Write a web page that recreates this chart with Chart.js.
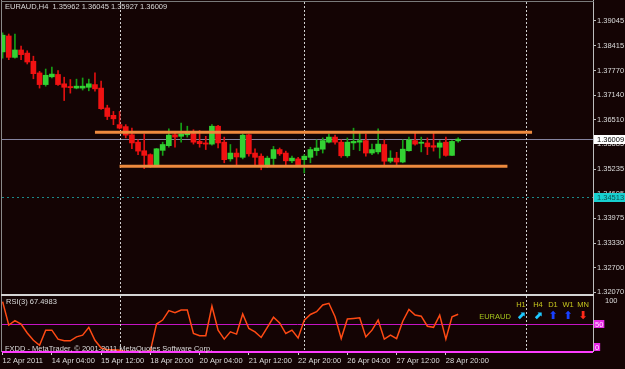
<!DOCTYPE html>
<html>
<head>
<meta charset="utf-8">
<script src="https://cdn.jsdelivr.net/npm/chart.js@4/dist/chart.umd.min.js"></script>
<style>
  body { margin: 0; background: #140404; width: 625px; height: 369px; overflow: hidden; position: relative; font-family: "Liberation Sans", Arial, sans-serif; }
  .pane { position: absolute; left: 0; width: 625px; }
  .txt { position: absolute; white-space: nowrap; font-size: 7.5px; line-height: 10px; color: #dcdcdc; }
  .tf { position: absolute; white-space: nowrap; transform: translateX(-50%); font-size: 7.5px; line-height: 10px; }
  .arrow { font-family: "DejaVu Sans"; font-size: 11px; line-height: 12px; font-weight: bold; }
</style>
</head>
<body>
<div class="pane" style="top:0;height:294px"><canvas id="chart-price"></canvas></div>
<div class="pane" style="top:294px;height:75px"><canvas id="chart-rsi"></canvas></div>

<div class="txt" style="left:5px;top:2px">EURAUD,H4&nbsp;&nbsp;1.35962 1.36045 1.35927 1.36009</div>
<div class="txt" style="left:6px;top:297px">RSI(3) 67.4983</div>
<div class="txt" style="left:5px;top:344px">FXDD - MetaTrader, © 2001-2011 MetaQuotes Software Corp.</div>
<div id="trend-box"></div>

<script>
// ---------- данные: EURAUD H4 ----------
const opens  = [1.3825,1.3866,1.3811,1.3830,1.3822,1.3801,1.3771,1.3741,1.3761,1.3767,1.3743,1.3736,1.3732,1.3732,1.3734,1.3741,1.3732,1.3681,1.3662,1.3638,
                1.3633,1.3612,1.3593,1.3571,1.3561,1.3535,1.3572,1.3584,1.3612,1.3608,1.3612,1.3615,1.3595,1.3591,1.3588,1.3634,1.3593,1.3550,1.3565,1.3554,
                1.3612,1.3565,1.3557,1.3535,1.3551,1.3574,1.3565,1.3545,1.3550,1.3548,1.3554,1.3571,1.3575,1.3593,1.3606,1.3593,1.3558,1.3591,1.3593,1.3597,
                1.3565,1.3568,1.3587,1.3544,1.3552,1.3542,1.3571,1.3597,1.3590,1.3591,1.3584,1.3580,1.3593,1.3559,1.35962];
const highs  = [1.3874,1.3871,1.3871,1.3840,1.3828,1.3814,1.3775,1.3781,1.3786,1.3777,1.3760,1.3754,1.3755,1.3758,1.3755,1.3771,1.3750,1.3688,1.3672,1.3672,
                1.3638,1.3629,1.3599,1.3614,1.3563,1.3577,1.3593,1.3627,1.3621,1.3642,1.3634,1.3625,1.3623,1.3608,1.3638,1.3636,1.3606,1.3587,1.3576,1.3614,
                1.3614,1.3576,1.3563,1.3557,1.3582,1.3578,1.3570,1.3557,1.3554,1.3561,1.3580,1.3599,1.3604,1.3614,1.3611,1.3599,1.3604,1.3629,1.3617,1.3614,
                1.3588,1.3627,1.3599,1.3571,1.3567,1.3599,1.3606,1.3617,1.3606,1.3604,1.3617,1.3597,1.3606,1.3597,1.36045];
const lows   = [1.3809,1.3805,1.3809,1.3805,1.3794,1.3756,1.3732,1.3737,1.3758,1.3739,1.3700,1.3719,1.3730,1.3727,1.3725,1.3724,1.3677,1.3651,1.3638,1.3627,
                1.3604,1.3576,1.3561,1.3525,1.3528,1.3531,1.3559,1.3580,1.3580,1.3593,1.3606,1.3588,1.3580,1.3574,1.3585,1.3578,1.3540,1.3544,1.3531,1.3550,
                1.3557,1.3534,1.3522,1.3528,1.3531,1.3559,1.3535,1.3540,1.3531,1.3514,1.3540,1.3559,1.3565,1.3591,1.3588,1.3554,1.3554,1.3574,1.3571,1.3557,
                1.3561,1.3563,1.3535,1.3540,1.3535,1.3540,1.3570,1.3585,1.3568,1.3561,1.3570,1.3552,1.3557,1.3558,1.35927];
const closes = [1.3868,1.3811,1.3830,1.3818,1.3799,1.3769,1.3741,1.3765,1.3768,1.3741,1.3734,1.3733,1.3737,1.3737,1.3743,1.3730,1.3679,1.3659,1.3653,1.3629,
                1.3611,1.3591,1.3570,1.3559,1.3535,1.3576,1.3587,1.3611,1.3606,1.3614,1.3618,1.3593,1.3589,1.3588,1.3634,1.3591,1.3548,1.3565,1.3555,1.3611,
                1.3563,1.3554,1.3534,1.3552,1.3574,1.3563,1.3545,1.3552,1.3534,1.3557,1.3574,1.3578,1.3597,1.3606,1.3593,1.3558,1.3593,1.3595,1.3597,1.3565,
                1.3574,1.3588,1.3544,1.3552,1.3542,1.3575,1.3599,1.3588,1.3593,1.3581,1.3580,1.3591,1.3559,1.3595,1.36009];
const rsiValues = [90,48,56,50,34,21,12,39,39,23,20,20,27,30,44,21,7,4,4,3,
                   1,1,1,0.5,2,50,57,74,70,75,75,33,29,29,82,39,23,36,32,68,
                   42,36,26,44,62,52,33,39,25,57,67,72,84,87,63,24,59,60,61,27,
                   39,57,23,30,24,55,76,66,64,46,44,66,23,63,67.4983];

const dateTicks = ["12 Apr 2011","14 Apr 04:00","15 Apr 12:00","18 Apr 20:00","20 Apr 04:00",
                   "21 Apr 12:00","22 Apr 20:00","26 Apr 04:00","27 Apr 12:00","28 Apr 20:00"];
const barsPerTick = 8;
const priceTicks = [1.39045,1.38415,1.37770,1.37140,1.36510,1.35885,1.35235,1.34605,1.33975,1.33330,1.32700,1.32070];
const rsiTicks = [100];
const rsiLevels = [50, 0];

const bidPrice = 1.36009;
const alertPrice = 1.34513;
const separators = [19, 49, 85];           // индекс бара недельных разделителей
const channelTop = { from: 15, to: 86, price: 1.36184 };
const channelBottom = { from: 19, to: 82, price: 1.35310 };

const trendFrames = ["H1", "H4", "D1", "W1", "MN"];
const trendArrows = ["⬈", "⬈", "⬆", "⬆", "⬇"];
const trendColors = ["#1ec8ff", "#1ec8ff", "#1840ff", "#1840ff", "#ff2a1a"];

// ---------- оформление ----------
const BG = "#140404";
const FONT = { family: "'Liberation Sans', Arial, sans-serif", size: 7.5 };
const X_MIN = -0.1, X_MAX = 95.9;
Chart.defaults.font.family = FONT.family;
Chart.defaults.font.size = FONT.size;
Chart.defaults.animation = false;

const isBull = (i) => closes[i] >= opens[i];

// убираем авто-отступы шкал под крайние подписи, чтобы область графика была точной
function noPad(s) { s.paddingTop = 0; s.paddingBottom = 0; s.paddingLeft = 0; s.paddingRight = 0; }

function drawSeparators(chart) {
  const { ctx, chartArea: a, scales } = chart;
  ctx.save();
  ctx.strokeStyle = "#cfcfcf";
  ctx.lineWidth = 1;
  ctx.setLineDash([2, 2]);
  separators.forEach((idx) => {
    const x = Math.round(scales.x.getPixelForValue(idx)) + 0.5;
    ctx.beginPath(); ctx.moveTo(x, a.top); ctx.lineTo(x, a.bottom); ctx.stroke();
  });
  ctx.restore();
}

function hLine(chart, value, color, width, dash) {
  const { ctx, chartArea: a, scales } = chart;
  const y = Math.round(scales.y.getPixelForValue(value)) + (width % 2 ? 0.5 : 0);
  ctx.save();
  ctx.strokeStyle = color; ctx.lineWidth = width;
  ctx.setLineDash(dash || []);
  ctx.beginPath(); ctx.moveTo(a.left, y); ctx.lineTo(a.right, y); ctx.stroke();
  ctx.restore();
}

function frame(chart, topColor, topWidth) {
  const { ctx, chartArea: a } = chart;
  ctx.save();
  ctx.fillStyle = "#8a8a8a";
  ctx.fillRect(a.left - 1, 0, 1, a.bottom);
  ctx.fillStyle = "#bdbdbd";
  ctx.fillRect(a.right, 0, 1, a.bottom);
  ctx.fillStyle = topColor;
  ctx.fillRect(a.left - 1, a.top - topWidth, a.right - a.left + 2, topWidth);
  ctx.restore();
}

function priceBox(chart, price, fill, color) {
  const { ctx, scales } = chart;
  const y = Math.round(scales.y.getPixelForValue(price));
  ctx.save();
  ctx.fillStyle = fill;
  ctx.fillRect(scales.y.left + 1, y - 4, scales.y.width, 9);
  ctx.fillStyle = color;
  ctx.font = `${FONT.size}px ${FONT.family}`;
  ctx.textBaseline = "middle";
  ctx.fillText(price.toFixed(5), scales.y.left + 4, y + 0.5);
  ctx.restore();
}

// ---------- график цены ----------
const pricePlugin = {
  id: "pricePlugin",
  beforeDraw(chart) {
    const { ctx } = chart;
    ctx.save(); ctx.fillStyle = BG; ctx.fillRect(0, 0, chart.width, chart.height); ctx.restore();
  },
  beforeDatasetsDraw(chart) {
    hLine(chart, bidPrice, "#8484a0", 1);
    hLine(chart, alertPrice, "#1c8a8a", 1, [2, 3]);
    drawSeparators(chart);
  },
  afterDraw(chart) {
    frame(chart, "#7a7a7a", 1);
    priceBox(chart, bidPrice, "#ffffff", "#000000");
    priceBox(chart, alertPrice, "#18d0d0", "#0a5050");
  },
};

const channelLine = (c) => ({
  type: "line",
  data: [{ x: c.from, y: c.price }, { x: c.to, y: c.price }],
  borderColor: "#ee8a3e", borderWidth: 3, pointRadius: 0, order: 0,
});

new Chart(document.getElementById("chart-price"), {
  type: "bar",
  data: {
    datasets: [
      channelLine(channelTop),
      channelLine(channelBottom),
      {
        data: opens.map((o, i) => ({ x: i, y: [o, closes[i]] })),
        backgroundColor: (c) => (isBull(c.dataIndex) ? "#33d133" : "#f01212"),
        barThickness: 5, minBarLength: 1, grouped: false, order: 1,
      },
      {
        data: lows.map((l, i) => ({ x: i, y: [l, highs[i]] })),
        backgroundColor: (c) => (isBull(c.dataIndex) ? "#16a016" : "#e01010"),
        barThickness: 1, grouped: false, order: 2,
      },
    ],
  },
  options: {
    responsive: true, maintainAspectRatio: false,
    layout: { padding: { left: 2, top: 2, right: 0, bottom: 0 } },
    plugins: { legend: { display: false }, tooltip: { enabled: false } },
    scales: {
      x: { type: "linear", min: X_MIN, max: X_MAX, offset: false, display: false },
      y: {
        position: "right", min: 1.32027, max: 1.39533,
        afterBuildTicks: (s) => { s.ticks = priceTicks.map((v) => ({ value: v })); },
        afterFit: (s) => { s.width = 32; noPad(s); },
        ticks: { color: "#dcdcdc", padding: 1, callback: (v) => v.toFixed(5) },
        grid: { drawOnChartArea: false, tickLength: 3, color: "#bdbdbd" },
        border: { display: false },
      },
    },
  },
  plugins: [pricePlugin],
});

// ---------- RSI(3) ----------
const rsiPlugin = {
  id: "rsiPlugin",
  beforeDraw(chart) {
    const { ctx } = chart;
    ctx.save(); ctx.fillStyle = BG; ctx.fillRect(0, 0, chart.width, chart.height); ctx.restore();
  },
  beforeDatasetsDraw(chart) {
    hLine(chart, rsiLevels[0], "#c414c4", 1);
    drawSeparators(chart);
  },
  afterDraw(chart) {
    const { ctx, chartArea: a, scales } = chart;
    frame(chart, "#d4d4d4", 2);
    hLine(chart, rsiLevels[1], "#ff3cff", 2);
    // подписи уровней в розовых плашках
    ctx.save();
    ctx.font = `${FONT.size}px ${FONT.family}`;
    ctx.textBaseline = "middle";
    rsiLevels.forEach((lv) => {
      const y = Math.min(Math.round(scales.y.getPixelForValue(lv)), a.bottom - 5);
      const w = ctx.measureText(String(lv)).width + 2;
      ctx.fillStyle = "#e628e6";
      ctx.fillRect(a.right + 1, y - 4, w, 8);
      ctx.fillStyle = "#ffe6ff";
      ctx.fillText(String(lv), a.right + 2, y + 0.5);
    });
    ctx.restore();
  },
};

new Chart(document.getElementById("chart-rsi"), {
  type: "line",
  data: {
    datasets: [{
      data: rsiValues.map((v, i) => ({ x: i, y: v })),
      borderColor: "#ff4a14", borderWidth: 1.5, pointRadius: 0, tension: 0,
    }],
  },
  options: {
    responsive: true, maintainAspectRatio: false,
    layout: { padding: { left: 2, top: 2, right: 0, bottom: 0 } },
    plugins: { legend: { display: false }, tooltip: { enabled: false } },
    scales: {
      x: {
        type: "linear", min: X_MIN, max: X_MAX, offset: false,
        afterBuildTicks: (s) => { s.ticks = dateTicks.map((_, i) => ({ value: i * barsPerTick })); },
        afterFit: (s) => { s.height = 17; noPad(s); },
        ticks: {
          color: "#dcdcdc", padding: 1, align: "start", maxRotation: 0, autoSkip: false,
          callback: (v) => dateTicks[Math.round(v / barsPerTick)] || "",
        },
        grid: { drawOnChartArea: false, tickLength: 3, color: "#d0d0d0" },
        border: { display: false },
      },
      y: {
        position: "right", min: 0, max: 100,
        afterBuildTicks: (s) => { s.ticks = rsiTicks.map((v) => ({ value: v })); },
        afterFit: (s) => { s.width = 32; noPad(s); },
        ticks: { color: "#dcdcdc", padding: 4, labelOffset: 5 },
        grid: { display: false },
        border: { display: false },
      },
    },
  },
  plugins: [rsiPlugin],
});

// ---------- индикатор трендов по таймфреймам ----------
const tfX = [521, 538, 553, 568, 583];
document.getElementById("trend-box").innerHTML =
  trendFrames.map((tf, i) => `
    <div class="tf" style="left:${tfX[i]}px;top:300px;color:#c8c81e">${tf}</div>
    <div class="tf arrow" style="left:${tfX[i]}px;top:310px;color:${trendColors[i]}">${trendArrows[i]}</div>
  `).join("") +
  `<div class="tf" style="left:495px;top:312px;color:#a4c41c">EURAUD</div>`;
</script>
</body>
</html>
